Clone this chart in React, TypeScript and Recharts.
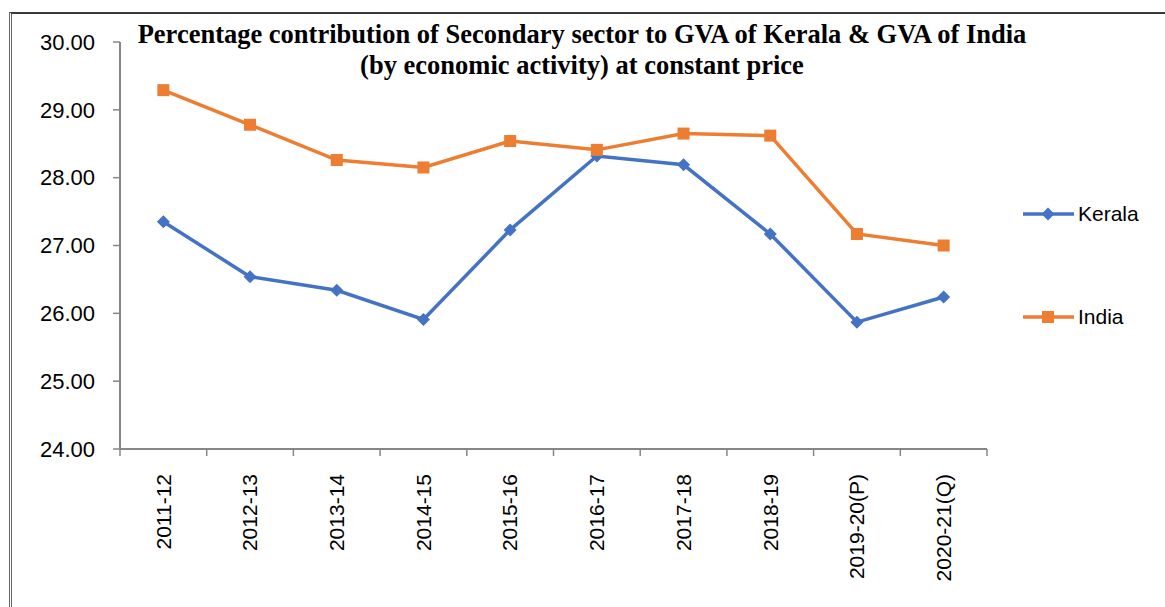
import React from "react";
import { LineChart, Line, XAxis, YAxis, Legend } from "recharts";

const categories = ["2011-12", "2012-13", "2013-14", "2014-15", "2015-16", "2016-17", "2017-18", "2018-19", "2019-20(P)", "2020-21(Q)"];
const keralaValues = [27.35, 26.54, 26.34, 25.91, 27.23, 28.32, 28.19, 27.17, 25.87, 26.24];
const indiaValues = [29.29, 28.78, 28.26, 28.15, 28.54, 28.41, 28.65, 28.62, 27.17, 27.0];
const yTicks = [24, 25, 26, 27, 28, 29, 30];

const KERALA = "#4472C4";
const INDIA = "#ED7D31";
const AXIS = "#868686";
const FONT = "'Liberation Sans', Arial, sans-serif";

const data = categories.map((c, i) => ({ x: i + 0.5, label: c, Kerala: keralaValues[i], India: indiaValues[i] }));
const boundaryTicks = categories.map((_, i) => i).concat([categories.length]);
const centerTicks = categories.map((_, i) => i + 0.5);

const Diamond = (props: any) => {
  const { cx, cy } = props;
  if (cx == null || cy == null) return null;
  const r = 6.5;
  return <path d={`M${cx},${cy - r}L${cx + r},${cy}L${cx},${cy + r}L${cx - r},${cy}Z`} fill={KERALA} stroke="none" />;
};

const Square = (props: any) => {
  const { cx, cy } = props;
  if (cx == null || cy == null) return null;
  const s = 12;
  return <rect x={cx - s / 2} y={cy - s / 2} width={s} height={s} fill={INDIA} stroke="none" />;
};

const CatTick = (props: any) => {
  const { x, y, payload } = props;
  const idx = Math.round(payload.value - 0.5);
  const ty = y + 7;
  return (
    <text x={x} y={ty} transform={`rotate(-90 ${x} ${ty})`} textAnchor="end" dy="0.35em" fill="#000" fontSize={21} fontFamily={FONT}>
      {categories[idx]}
    </text>
  );
};

const LegendContent = () => (
  <div style={{ position: "relative", width: 140, height: 130, fontFamily: FONT, fontSize: 21, color: "#000" }}>
    {[
      { name: "Kerala", color: KERALA, top: 0, shape: "d" },
      { name: "India", color: INDIA, top: 103, shape: "s" },
    ].map((it) => (
      <div key={it.name} style={{ position: "absolute", left: 0, top: it.top, height: 26, display: "flex", alignItems: "center" }}>
        <svg width={54} height={26} style={{ display: "block" }}>
          <line x1={1} y1={13} x2={52} y2={13} stroke={it.color} strokeWidth={3.5} />
          {it.shape === "d" ? (
            <path d="M26,6.5L32.5,13L26,19.5L19.5,13Z" fill={it.color} />
          ) : (
            <rect x={20} y={7} width={12} height={12} fill={it.color} />
          )}
        </svg>
        <span style={{ marginLeft: 2, lineHeight: "26px" }}>{it.name}</span>
      </div>
    ))}
  </div>
);

export default function App() {
  return (
    <div style={{ position: "absolute", left: 0, top: 0, width: 1165, height: 607, background: "#fff", overflow: "hidden" }}>
      <div style={{ position: "absolute", left: 9, top: 12, width: 1160, height: 600, borderTop: "2px solid #3a3a3a", borderLeft: "3px double #666" }} />
      <div
        style={{
          position: "absolute",
          left: 32,
          top: 19,
          width: 1100,
          textAlign: "center",
          fontFamily: "'Liberation Serif', 'Times New Roman', serif",
          fontWeight: "bold",
          fontSize: 26.5,
          lineHeight: "31px",
          color: "#000",
          zIndex: 2,
        }}
      >
        Percentage contribution of Secondary sector to GVA of Kerala &amp; GVA of India
        <br />
        (by economic activity) at constant price
      </div>
      <LineChart width={1165} height={607} data={data} margin={{ top: 42, right: 178, bottom: 0, left: 10 }}>
        <XAxis
          xAxisId={0}
          dataKey="x"
          type="number"
          domain={[0, 10]}
          ticks={boundaryTicks}
          interval={0}
          tickFormatter={() => ""}
          tickSize={7}
          height={10}
          stroke={AXIS}
          axisLine={{ stroke: AXIS, strokeWidth: 2 }}
          tickLine={{ stroke: AXIS, strokeWidth: 1.5 }}
          allowDataOverflow
        />
        <XAxis
          xAxisId="labels"
          dataKey="x"
          type="number"
          domain={[0, 10]}
          ticks={centerTicks}
          interval={0}
          axisLine={false}
          tickLine={false}
          height={148}
          tick={<CatTick />}
        />
        <YAxis
          domain={[24, 30]}
          ticks={yTicks}
          interval={0}
          width={110}
          tickSize={7}
          tickMargin={18}
          tickFormatter={(v: number) => v.toFixed(2)}
          axisLine={{ stroke: AXIS, strokeWidth: 2 }}
          tickLine={{ stroke: AXIS, strokeWidth: 1.5 }}
          tick={{ fill: "#000", fontSize: 22, fontFamily: FONT }}
          allowDataOverflow
        />
        <Legend
          layout="vertical"
          align="center"
          verticalAlign="middle"
          content={<LegendContent />}
          wrapperStyle={{ left: 1022, top: 201, width: 140, height: 130 }}
        />
        <Line
          xAxisId={0}
          type="linear"
          dataKey="Kerala"
          stroke={KERALA}
          strokeWidth={3.5}
          dot={<Diamond />}
          activeDot={false}
          isAnimationActive={false}
        />
        <Line
          xAxisId={0}
          type="linear"
          dataKey="India"
          stroke={INDIA}
          strokeWidth={3.5}
          dot={<Square />}
          activeDot={false}
          isAnimationActive={false}
        />
      </LineChart>
    </div>
  );
}
